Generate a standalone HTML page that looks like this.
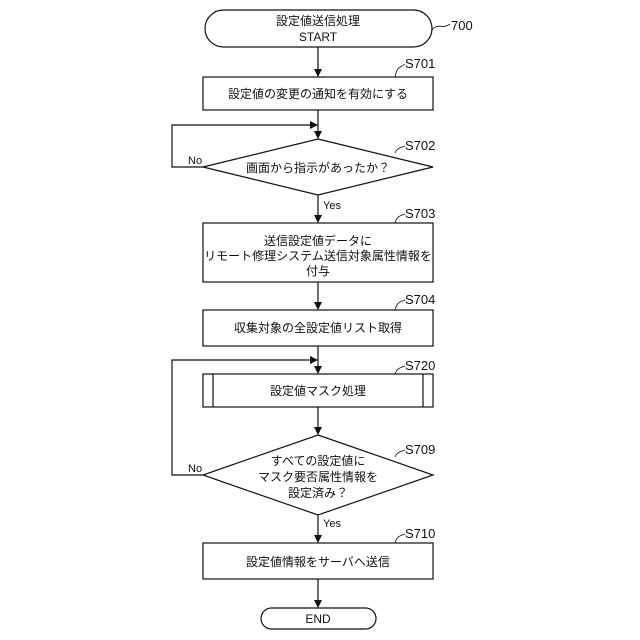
<!DOCTYPE html>
<html><head><meta charset="utf-8"><style>
body{margin:0;background:#fff}
svg{display:block}
text{font-family:"Liberation Sans","Noto Sans CJK JP",sans-serif;font-size:12px;fill:#111}
</style></head><body>
<svg width="640" height="640" viewBox="0 0 640 640">
<defs><marker id="a" markerWidth="8" markerHeight="8" refX="7" refY="4" orient="auto" markerUnits="userSpaceOnUse"><path d="M0,0 L8,4 L0,8z" fill="#111"/></marker></defs>
<g fill="none" stroke="#111" stroke-width="1.2">
<rect x="205" y="10" width="227" height="37" rx="18.5" fill="#fff"/>
<rect x="203" y="77" width="230" height="33"/>
<polygon points="318,139 433,167 318,195 203,167"/>
<rect x="203" y="223" width="230" height="59"/>
<rect x="203" y="310" width="230" height="36"/>
<rect x="203" y="374" width="230" height="33"/>
<line x1="213" y1="374" x2="213" y2="407"/><line x1="423" y1="374" x2="423" y2="407"/>
<polygon points="318,435 433,475 318,515 203,475"/>
<rect x="203" y="543" width="230" height="36"/>
<rect x="261" y="608" width="115" height="21" rx="10.5"/>
<line x1="318" y1="47" x2="318" y2="76" marker-end="url(#a)"/>
<line x1="318" y1="110" x2="318" y2="138" marker-end="url(#a)"/>
<polyline points="203,167 172,167 172,125 317,125" marker-end="url(#a)"/>
<line x1="318" y1="195" x2="318" y2="222" marker-end="url(#a)"/>
<line x1="318" y1="282" x2="318" y2="309" marker-end="url(#a)"/>
<line x1="318" y1="346" x2="318" y2="373" marker-end="url(#a)"/>
<polyline points="203,475 172,475 172,360 317,360" marker-end="url(#a)"/>
<line x1="318" y1="407" x2="318" y2="434" marker-end="url(#a)"/>
<line x1="318" y1="515" x2="318" y2="542" marker-end="url(#a)"/>
<line x1="318" y1="579" x2="318" y2="607" marker-end="url(#a)"/>
<path d="M432,30 C438,22 442,30 450,24" stroke-width="0.8"/>
<path d="M395,77 C397,66 400,68 405,64" stroke-width="0.8"/>
<path d="M395,153 C397,148 400,148 405,146" stroke-width="0.8"/>
<path d="M395,223 C397,216 400,216 405,214" stroke-width="0.8"/>
<path d="M395,310 C397,302 400,302 405,300" stroke-width="0.8"/>
<path d="M395,374 C397,368 400,368 405,366" stroke-width="0.8"/>
<path d="M395,457 C397,452 400,452 405,450" stroke-width="0.8"/>
<path d="M395,543 C397,536 400,536 405,534" stroke-width="0.8"/>
</g>
<g text-anchor="middle">
<text x="318" y="25">設定値送信処理</text>
<text x="318" y="41">START</text>
<text x="318" y="98">設定値の変更の通知を有効にする</text>
<text x="318" y="172">画面から指示があったか？</text>
<text x="318" y="245">送信設定値データに</text>
<text x="318" y="260">リモート修理システム送信対象属性情報を</text>
<text x="318" y="275">付与</text>
<text x="318" y="332">収集対象の全設定値リスト取得</text>
<text x="318" y="395">設定値マスク処理</text>
<text x="318" y="465">すべての設定値に</text>
<text x="318" y="481">マスク要否属性情報を</text>
<text x="318" y="497">設定済み？</text>
<text x="318" y="566">設定値情報をサーバへ送信</text>
<text x="318" y="623">END</text>
</g>
<text x="451" y="30" style="font-size:13px">700</text>
<text x="405" y="68" style="font-size:13px">S701</text>
<text x="405" y="150" style="font-size:13px">S702</text>
<text x="405" y="218" style="font-size:13px">S703</text>
<text x="405" y="304" style="font-size:13px">S704</text>
<text x="405" y="370" style="font-size:13px">S720</text>
<text x="405" y="454" style="font-size:13px">S709</text>
<text x="405" y="538" style="font-size:13px">S710</text>
<text x="188" y="164" style="font-size:11px">No</text>
<text x="188" y="472" style="font-size:11px">No</text>
<text x="323" y="209" style="font-size:11px">Yes</text>
<text x="323" y="527" style="font-size:11px">Yes</text>
</svg>
</body></html>
